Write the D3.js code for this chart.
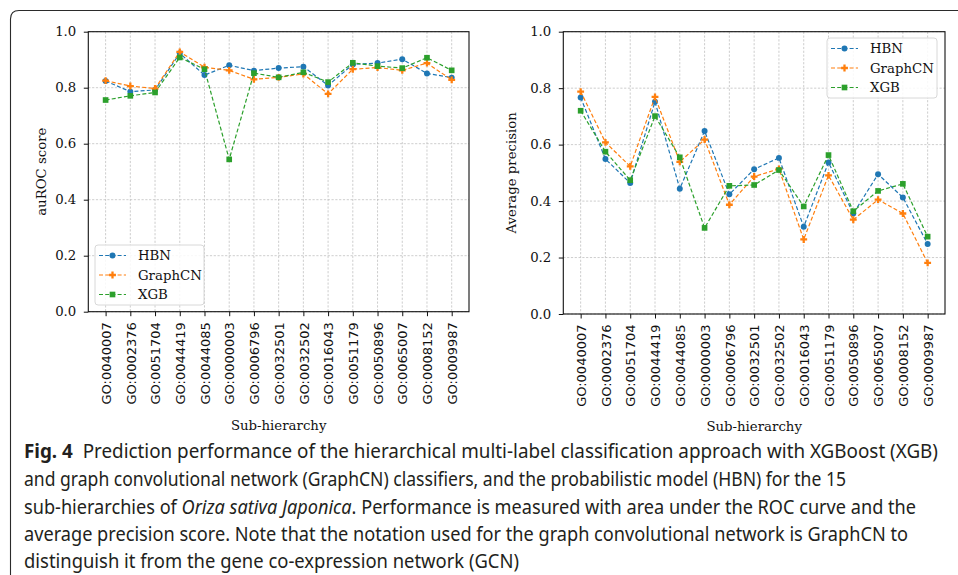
<!DOCTYPE html>
<html><head><meta charset="utf-8">
<script src="https://cdn.jsdelivr.net/npm/d3@7"></script>
<style>body{margin:0;background:#fff} svg{display:block}</style>
</head><body>
<svg id="fig" width="958" height="575"></svg>
<script>
// ---------- data ----------
const categories = ["GO:0040007","GO:0002376","GO:0051704","GO:0044419","GO:0044085","GO:0000003","GO:0006796","GO:0032501","GO:0032502","GO:0016043","GO:0051179","GO:0050896","GO:0065007","GO:0008152","GO:0009987"];
const seriesNames = ["HBN","GraphCN","XGB"];
const seriesColors = ["#1f77b4","#ff7f0e","#2ca02c"];
const seriesMarkers = ["circle","plus","square"];

const aurocHBN     = [0.824,0.786,0.792,0.923,0.845,0.880,0.861,0.870,0.875,0.808,0.883,0.888,0.902,0.851,0.836];
const aurocGraphCN = [0.825,0.806,0.797,0.928,0.873,0.862,0.830,0.837,0.849,0.778,0.866,0.872,0.862,0.888,0.828];
const aurocXGB     = [0.756,0.771,0.783,0.908,0.866,0.544,0.852,0.837,0.855,0.820,0.889,0.877,0.870,0.907,0.862];

const apHBN     = [0.767,0.549,0.464,0.752,0.444,0.648,0.424,0.513,0.553,0.309,0.537,0.356,0.495,0.413,0.248];
const apGraphCN = [0.788,0.608,0.523,0.769,0.539,0.618,0.387,0.487,0.514,0.264,0.491,0.334,0.405,0.356,0.181];
const apXGB     = [0.720,0.575,0.474,0.701,0.555,0.305,0.454,0.457,0.510,0.381,0.563,0.364,0.436,0.461,0.274];

const yTicks = [0.0,0.2,0.4,0.6,0.8,1.0];
const xLabel = "Sub-hierarchy";
const yLabelLeft = "auROC score";
const yLabelRight = "Average precision";

const captionLines = [
  [{t:"Fig. 4",b:true},{t:"\u00a0 Prediction performance of the hierarchical multi-label classification approach with XGBoost (XGB)"}],
  [{t:"and graph convolutional network (GraphCN) classifiers, and the probabilistic model (HBN) for the 15"}],
  [{t:"sub-hierarchies of "},{t:"Oriza sativa Japonica",i:true},{t:". Performance is measured with area under the ROC curve and the"}],
  [{t:"average precision score. Note that the notation used for the graph convolutional network is GraphCN to"}],
  [{t:"distinguish it from the gene co-expression network (GCN)"}]
];

// ---------- drawing ----------
const svg = d3.select("#fig");
svg.append("rect").attr("width",958).attr("height",575).attr("fill","#fff");

// figure frame
svg.append("path")
  .attr("d","M10.5,575 L10.5,19 Q10.5,10.5 19,10.5 L958,10.5")
  .attr("fill","none").attr("stroke","#2b2b2b").attr("stroke-width",1.1);

const SERIF = "'DejaVu Serif', serif";
const SANS = "'DejaVu Sans', sans-serif";
const FS = 13.3;

function symbolFor(m){
  if (m==="circle") return d3.symbol().type(d3.symbolCircle).size(28)();
  if (m==="square") return d3.symbol().type(d3.symbolSquare).size(32)();
  return d3.symbol().type(d3.symbolCross).size(26)();
}

function panel(opt){
  const g = svg.append("g");
  const x = d3.scaleLinear().domain([-0.7, categories.length-1+0.7]).range(opt.xr);
  const y = d3.scaleLinear().domain([0,1]).range(opt.yr);
  const [x0,x1] = opt.xr, [y0,y1] = [opt.yr[1], opt.yr[0]];

  // grid
  const grid = g.append("g").attr("stroke","#c0c0c0").attr("stroke-width",0.8).attr("stroke-dasharray","2.2,1.6");
  grid.selectAll("line.v").data(d3.range(categories.length)).join("line")
    .attr("x1",d=>x(d)).attr("x2",d=>x(d)).attr("y1",y0).attr("y2",y1);
  grid.selectAll("line.h").data(yTicks).join("line")
    .attr("y1",d=>y(d)).attr("y2",d=>y(d)).attr("x1",x0).attr("x2",x1);

  // series
  opt.series.forEach((vals,si)=>{
    const line = d3.line().x((d,i)=>x(i)).y(d=>y(d));
    g.append("path").datum(vals).attr("d",line).attr("fill","none")
      .attr("stroke",seriesColors[si]).attr("stroke-width",1.2).attr("stroke-dasharray","4,2.2");
    g.selectAll(null).data(vals).join("path")
      .attr("transform",(d,i)=>`translate(${x(i)},${y(d)})`)
      .attr("d",symbolFor(seriesMarkers[si])).attr("fill",seriesColors[si]);
  });

  // spines
  g.append("rect").attr("x",x0).attr("y",y0).attr("width",x1-x0).attr("height",y1-y0)
    .attr("fill","none").attr("stroke","#111").attr("stroke-width",1.1);

  // x axis
  const xa = g.append("g").attr("transform",`translate(0,${y1})`)
    .call(d3.axisBottom(x).tickValues(d3.range(categories.length)).tickFormat(i=>categories[i]).tickSize(4.5).tickSizeOuter(0));
  xa.select(".domain").remove();
  xa.selectAll(".tick line").attr("stroke","#111");
  xa.selectAll(".tick text").attr("transform","rotate(-90)").attr("text-anchor","end")
    .attr("x",-10.5).attr("y",0).attr("dy","0.36em")
    .attr("font-family",SANS).attr("font-size",13).attr("fill","#111");

  // y axis
  const ya = g.append("g").attr("transform",`translate(${x0},0)`)
    .call(d3.axisLeft(y).tickValues(yTicks).tickFormat(d3.format(".1f")).tickSize(4.5).tickSizeOuter(0));
  ya.select(".domain").remove();
  ya.selectAll(".tick line").attr("stroke","#111");
  ya.selectAll(".tick text").attr("x",-12).attr("font-family",SERIF).attr("font-size",FS).attr("fill","#111");

  // axis labels
  g.append("text").attr("x",(x0+x1)/2).attr("y",opt.xlabY).attr("text-anchor","middle")
    .attr("font-family",SERIF).attr("font-size",FS).attr("fill","#111").text(xLabel);
  g.append("text").attr("transform",`translate(${opt.ylabX},${(y0+y1)/2}) rotate(-90)`)
    .attr("text-anchor","middle").attr("font-family",SERIF).attr("font-size",FS).attr("fill","#111").text(opt.ylabel);

  // legend
  const L = opt.legend;
  const lg = g.append("g");
  lg.append("rect").attr("x",L.x).attr("y",L.y).attr("width",L.w).attr("height",L.h).attr("rx",3)
    .attr("fill","#fff").attr("fill-opacity",0.85).attr("stroke","#d8d8d8").attr("stroke-width",1);
  seriesNames.forEach((n,si)=>{
    const ry = L.y + 10.5 + si*19.5;
    lg.append("line").attr("x1",L.x+4).attr("x2",L.x+31).attr("y1",ry).attr("y2",ry)
      .attr("stroke",seriesColors[si]).attr("stroke-width",1.2).attr("stroke-dasharray","4,2.2");
    lg.append("path").attr("transform",`translate(${L.x+17.5},${ry})`).attr("d",symbolFor(seriesMarkers[si])).attr("fill",seriesColors[si]);
    lg.append("text").attr("x",L.x+43).attr("y",ry).attr("dy","0.35em")
      .attr("font-family",SERIF).attr("font-size",FS).attr("fill","#111").text(n);
  });
}

panel({xr:[88.3,469], yr:[311.7,31.7], series:[aurocHBN,aurocGraphCN,aurocXGB],
  ylabel:yLabelLeft, ylabX:46, xlabY:430,
  legend:{x:95,y:245,w:109,h:60}});
panel({xr:[563.3,945], yr:[314,31.7], series:[apHBN,apGraphCN,apXGB],
  ylabel:yLabelRight, ylabX:516, xlabY:431,
  legend:{x:827,y:38,w:110,h:60}});

// caption
const capWidths = [914, 822, 892, 884, 495];
const capY = [458, 486, 513.5, 541, 568];
captionLines.forEach((parts,li)=>{
  const t = svg.append("text").attr("x",24).attr("y",capY[li])
    .attr("font-family","'Noto Sans', 'Open Sans', sans-serif").attr("font-size",19).attr("fill","#231f20")
    .attr("textLength",capWidths[li]).attr("lengthAdjust","spacingAndGlyphs");
  parts.forEach(p=>{
    const s = t.append("tspan").text(p.t);
    if (p.b) s.attr("font-weight","bold");
    if (p.i) s.attr("font-style","italic");
  });
});
</script>
</body></html>
